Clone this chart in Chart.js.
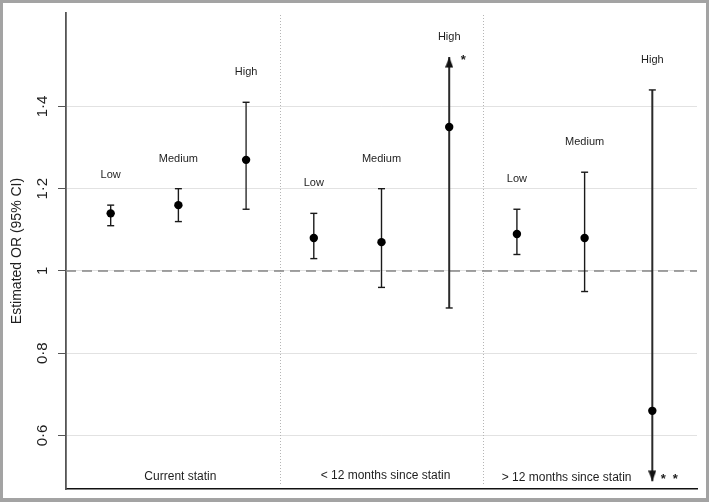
<!DOCTYPE html>
<html>
<head>
<meta charset="utf-8">
<script src="https://cdn.jsdelivr.net/npm/chart.js@4.4.1/dist/chart.umd.min.js"></script>
<style>
  html, body { margin: 0; padding: 0; background: #fff; }
  #wrap { width: 709px; height: 502px; position: relative; }
</style>
</head>
<body>
<div id="wrap"><canvas id="c" width="709" height="502"></canvas></div>
<script>
// ---- data ----
const groups = ['Current statin', '< 12 months since statin', '> 12 months since statin'];
const levels = ['Low', 'Medium', 'High'];
const estimates = [1.14, 1.16, 1.27, 1.08, 1.07, 1.35, 1.09, 1.08, 0.66];
const lowerCI   = [1.11, 1.12, 1.15, 1.03, 0.96, 0.91, 1.04, 0.95, 0.489];
const upperCI   = [1.16, 1.20, 1.41, 1.14, 1.20, 1.52, 1.15, 1.24, 1.44];
const arrowUp   = [false, false, false, false, false, true, false, false, false];
const arrowDown = [false, false, false, false, false, false, false, false, true];
const stars     = [0, 0, 0, 0, 0, 1, 0, 0, 2];
const yTickValues = [0.6, 0.8, 1.0, 1.2, 1.4];
const yTickLabels = ['0·6', '0·8', '1', '1·2', '1·4'];
const refValue = 1;
const separators = [3.5, 6.5];
const xMin = 0.34, xMax = 9.66, yMin = 0.470, yMax = 1.627;

const FONT = '"Liberation Sans", Arial, Helvetica, sans-serif';

// position of each item on the x scale
const xPos = estimates.map((_, i) => Math.floor(i / 3) * 3 + (i % 3) + 1);

// arrow head image (tip at image centre)
function makeArrow() {
  const w = 8, h = 22;
  const cv = document.createElement('canvas');
  cv.width = w; cv.height = h;
  const c = cv.getContext('2d');
  c.fillStyle = '#111';
  c.beginPath();
  c.moveTo(w / 2, h / 2);
  c.lineTo(w, h / 2 + 10.5);
  c.lineTo(0, h / 2 + 10.5);
  c.closePath();
  c.fill();
  return cv;
}
const arrowImg = makeArrow();

const datasets = [];
// points
datasets.push({
  type: 'scatter',
  data: estimates.map((v, i) => ({ x: xPos[i], y: v })),
  pointRadius: 4.2,
  pointBackgroundColor: '#000',
  pointBorderColor: '#000',
  pointBorderWidth: 0,
  showLine: false
});
// error bars
estimates.forEach((v, i) => {
  const high = (i % 3) === 2;
  datasets.push({
    type: 'line',
    data: [{ x: xPos[i], y: lowerCI[i] }, { x: xPos[i], y: upperCI[i] }],
    borderColor: high ? '#2a2a2a' : '#1a1a1a',
    borderWidth: (arrowUp[i] || arrowDown[i]) ? 2 : 1.4,
    pointStyle: [arrowDown[i] ? arrowImg : 'line', arrowUp[i] ? arrowImg : 'line'],
    pointRotation: [arrowDown[i] ? 180 : 0, 0],
    pointRadius: 3.5,
    pointBorderWidth: 1.4,
    pointBorderColor: '#1a1a1a',
    pointBackgroundColor: '#1a1a1a',
    fill: false,
    tension: 0
  });
});
// reference line at OR = 1
datasets.push({
  type: 'line',
  data: [{ x: xMin, y: refValue }, { x: xMax, y: refValue }],
  borderColor: '#858585',
  borderWidth: 1.6,
  borderDash: [10, 6],
  pointRadius: 0,
  fill: false
});

const groupLabelShift = [2, 4, -18];
const groupLabelDy = [12, 13, 11];

const annot = {
  id: 'annot',
  beforeDatasetsDraw(chart) {
    const { ctx, chartArea: a, scales: { x } } = chart;
    ctx.save();
    ctx.strokeStyle = '#b5b5b5';
    ctx.lineWidth = 1;
    ctx.setLineDash([1, 2]);
    separators.forEach(s => {
      const px = Math.round(x.getPixelForValue(s)) + 0.5;
      ctx.beginPath();
      ctx.moveTo(px, a.top + 2);
      ctx.lineTo(px, a.bottom - 4);
      ctx.stroke();
    });
    ctx.restore();
  },
  afterDatasetsDraw(chart) {
    const { ctx, chartArea: a, scales: { x, y } } = chart;
    ctx.save();
    ctx.fillStyle = '#1e1e1e';
    ctx.textAlign = 'center';
    ctx.textBaseline = 'middle';
    ctx.font = '11px ' + FONT;
    estimates.forEach((v, i) => {
      const px = x.getPixelForValue(xPos[i]);
      const py = y.getPixelForValue(upperCI[i]) - (arrowUp[i] ? 20 : 30);
      ctx.fillText(levels[i % 3], px, py);
    });
    ctx.font = '12px ' + FONT;
    groups.forEach((g, gi) => {
      const px = x.getPixelForValue(gi * 3 + 2) + groupLabelShift[gi];
      ctx.fillText(g, px, a.bottom - groupLabelDy[gi]);
    });
    ctx.font = 'bold 13px ' + FONT;
    ctx.textBaseline = 'alphabetic';
    estimates.forEach((v, i) => {
      if (!stars[i]) return;
      const px = x.getPixelForValue(xPos[i]);
      const py = arrowUp[i] ? y.getPixelForValue(upperCI[i]) + 7 : y.getPixelForValue(lowerCI[i]) + 2;
      const off = arrowUp[i] ? 14 : 11;
      for (let k = 0; k < stars[i]; k++) ctx.fillText('*', px + off + k * 12, py);
    });
    ctx.restore();
  },
  afterDraw(chart) {
    const ctx = chart.ctx;
    ctx.save();
    ctx.strokeStyle = '#a3a3a3';
    ctx.lineWidth = 3;
    ctx.strokeRect(1.5, 1.5, 706, 498);
    ctx.fillStyle = '#a3a3a3';
    ctx.fillRect(0, 498, 709, 4);
    ctx.restore();
  }
};

new Chart(document.getElementById('c'), {
  type: 'scatter',
  data: { datasets },
  options: {
    responsive: false,
    animation: false,
    events: [],
    layout: { padding: { left: 0, top: 12, right: 12, bottom: 0 } },
    plugins: { legend: { display: false }, tooltip: { enabled: false } },
    scales: {
      x: {
        type: 'linear', min: xMin, max: xMax,
        ticks: { display: false },
        grid: { display: false },
        border: { display: true, color: '#111', width: 1.5 },
        afterFit(s) { s.height = 11; }
      },
      y: {
        type: 'linear', min: yMin, max: yMax,
        afterBuildTicks(s) { s.ticks = yTickValues.map(v => ({ value: v })); },
        ticks: {
          callback: (v, i) => yTickLabels[i],
          minRotation: 90, maxRotation: 90,
          crossAlign: 'center',
          padding: 4,
          color: '#1e1e1e',
          font: { family: FONT, size: 15 }
        },
        grid: { color: '#e2e2e2', lineWidth: 1, tickColor: '#555', tickLength: 8 },
        border: { display: true, color: '#555', width: 1.8 },
        title: {
          display: true,
          text: 'Estimated OR (95% CI)',
          color: '#1e1e1e',
          font: { family: FONT, size: 14 },
          padding: { top: 8.5, bottom: 0 }
        },
        afterFit(s) { s.width = 66; }
      }
    }
  },
  plugins: [annot]
});
</script>
</body>
</html>
